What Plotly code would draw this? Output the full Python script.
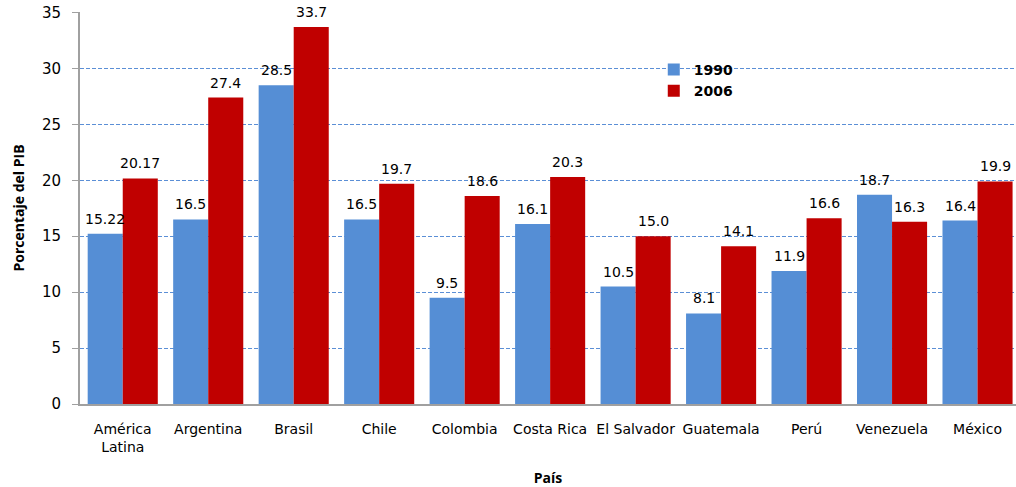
import plotly.graph_objects as go

paises = ["América<br>Latina", "Argentina", "Brasil", "Chile", "Colombia", "Costa Rica",
          "El Salvador", "Guatemala", "Perú", "Venezuela", "México"]
v1990 = [15.22, 16.5, 28.5, 16.5, 9.5, 16.1, 10.5, 8.1, 11.9, 18.7, 16.4]
v2006 = [20.17, 27.4, 33.7, 19.7, 18.6, 20.3, 15.0, 14.1, 16.6, 16.3, 19.9]
t1990 = ["15.22", "16.5", "28.5", "16.5", "9.5", "16.1", "10.5", "8.1", "11.9", "18.7", "16.4"]
t2006 = ["20.17", "27.4", "33.7", "19.7", "18.6", "20.3", "15.0", "14.1", "16.6", "16.3", "19.9"]

FONT = "DejaVu Sans, sans-serif"
TITLE_FONT = "Open Sans, sans-serif"

W, H = 1016, 487
ML, MR, MT, MB = 80, 0, 12, 83
X_RANGE = [-0.5, 10.45]
BARGAP = 0.18

fig = go.Figure()
fig.add_trace(go.Bar(name="1990", x=paises, y=v1990, marker_color="#558ED5",
                     marker_line_width=0))
fig.add_trace(go.Bar(name="2006", x=paises, y=v2006, marker_color="#C00000",
                     marker_line_width=0))

# value labels above each bar, offset half a bar width left/right of the category
px_per_cat = (W - ML - MR) / (X_RANGE[1] - X_RANGE[0])
half_bar = px_per_cat * (1 - BARGAP) / 4
annotations = []
for vals, texts, side in ((v1990, t1990, -1), (v2006, t2006, 1)):
    for cat, v, t in zip(paises, vals, texts):
        annotations.append(dict(
            x=cat, y=v, xref="x", yref="y", text=t, showarrow=False,
            xanchor="center", yanchor="bottom", xshift=side * half_bar, yshift=5,
            font=dict(family=FONT, size=14, color="#000"),
        ))

fig.update_layout(
    width=W, height=H,
    margin=dict(l=ML, r=MR, t=MT, b=MB),
    paper_bgcolor="white", plot_bgcolor="white",
    barmode="group", bargap=BARGAP, bargroupgap=0,
    font=dict(family=FONT, size=14, color="#000"),
    annotations=annotations,
    legend=dict(x=0.613, y=0.893, xanchor="left", yanchor="top",
                font=dict(size=14, family="DejaVu Sans", weight="bold"),
                bgcolor="rgba(0,0,0,0)", tracegroupgap=5, itemwidth=30),
    xaxis=dict(
        range=X_RANGE, showline=True, linecolor="#A0A0A0", linewidth=2,
        ticks="", tickangle=0, tickfont=dict(size=14, family=FONT),
        ticklabelstandoff=11, automargin=False,
        title=dict(text="<b>País</b>", font=dict(size=14, family=TITLE_FONT),
                   standoff=23),
        showgrid=False,
    ),
    yaxis=dict(
        range=[0, 35.05], tickvals=[0, 5, 10, 15, 20, 25, 30, 35],
        showline=True, linecolor="#A0A0A0", linewidth=2,
        ticks="outside", ticklen=6, tickcolor="#A0A0A0",
        tickfont=dict(size=15, family=FONT), ticklabelstandoff=8,
        automargin=False,
        showgrid=True, gridcolor="#5B8FD6", griddash="4px,2px", gridwidth=1,
        zeroline=False,
        title=dict(text="<b>Porcentaje del PIB</b>",
                   font=dict(size=14, family=TITLE_FONT), standoff=14),
    ),
)

fig.write_html("out.html")
